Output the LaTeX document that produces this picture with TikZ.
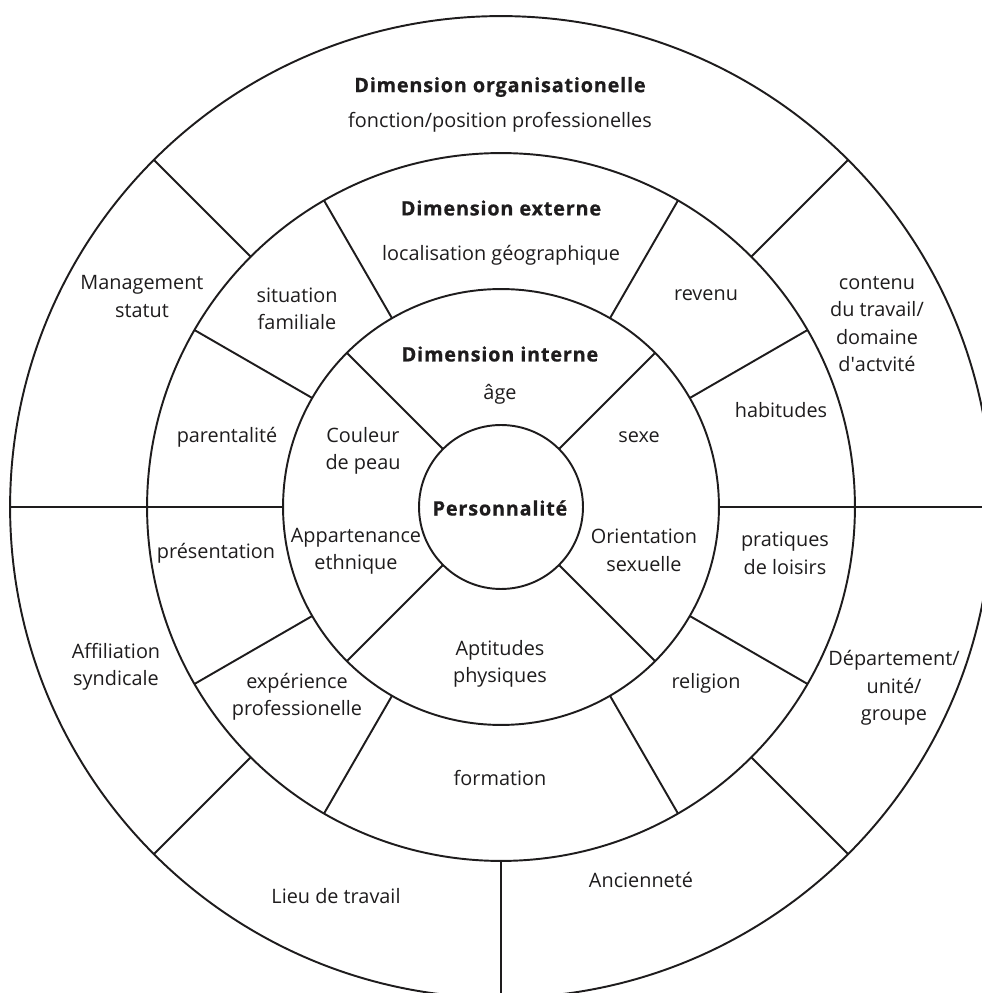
\documentclass[tikz,border=0pt]{standalone}
\usepackage{fontspec}
\setmainfont{Open Sans}
\newfontface\ttlfont[FakeBold=0.6,LetterSpace=4]{Open Sans Bold}
\definecolor{ink}{HTML}{1E1C1D}
\begin{document}
\begin{tikzpicture}[x=0.02cm,y=0.02cm,
  ring/.style={draw=ink,line width=1.1pt},
  lbl/.style={inner sep=0pt,align=center,text=ink,font=\fontsize{11.3}{15.6}\selectfont},
  ttl/.style={lbl,font=\fontsize{11.3}{15.6}\selectfont\ttlfont}]
\useasboundingbox (-501,-486) rectangle (481,507);
\clip (-501,-486) rectangle (481,507);
% circles
\draw[ring] (0,0) circle[radius=1.64cm];
\draw[ring] (0,0) circle[radius=4.36cm];
\draw[ring] (0,0) circle[radius=7.08cm];
\draw[ring] (0,0) circle[radius=9.82cm];
% dividers
\foreach \a in {45,135,225,315} \draw[ring] (\a:82) -- (\a:218);
\foreach \a in {0,30,60,120,150,180,210,240,300,330} \draw[ring] (\a:218) -- (\a:354);
\foreach \a in {45,135,180,225,270,315} \draw[ring] (\a:354) -- (\a:491);
\draw[ring] (0:354) -- (0:520);
% outer ring
\node[ttl] (orgT) at (-1,420) {Dimension organisationelle};
\node[lbl] (orgS) at (-1,385) {fonction/position professionelles};
\node[lbl] (mgmt) at (-359,210.5) {Management\\statut};
\node[lbl] (cont) at (376,183) {contenu\\du travail/\\domaine\\d\textquotesingle actvité};
\node[lbl] (affi) at (-385,-160) {Affiliation\\syndicale};
\node[lbl] (dept) at (393,-181) {Département/\\unité/\\groupe};
\node[lbl] (lieu) at (-165,-389) {Lieu de travail};
\node[lbl] (anci) at (140,-373) {Ancienneté};
% middle ring
\node[ttl] (extT) at (0,299) {Dimension externe};
\node[lbl] (extS) at (0,252) {localisation géographique};
\node[lbl] (situ) at (-204,198) {situation\\familiale};
\node[lbl] (reve) at (205,212) {revenu};
\node[lbl] (pare) at (-274,70) {parentalité};
\node[lbl] (habi) at (280,97) {habitudes};
\node[lbl] (pres) at (-285,-46) {présentation};
\node[lbl] (prat) at (284,-46.5) {pratiques\\de loisirs};
\node[lbl] (expe) at (-204,-189.5) {expérience\\professionelle};
\node[lbl] (reli) at (205,-176) {religion};
\node[lbl] (form) at (-1,-271) {formation};
% inner ring
\node[ttl] (intT) at (-1,153) {Dimension interne};
\node[lbl] (age) at (-1,113) {âge};
\node[lbl] (coul) at (-138,56) {Couleur\\de peau};
\node[lbl] (sexe) at (138,70) {sexe};
\node[lbl] (appa) at (-145,-44.5) {Appartenance\\ethnique};
\node[lbl] (orie) at (143,-43.5) {Orientation\\sexuelle};
\node[lbl] (apti) at (-1,-157) {Aptitudes\\physiques};
% core
\node[ttl] (pers) at (-1,-1) {Personnalité};
\end{tikzpicture}
\end{document}
